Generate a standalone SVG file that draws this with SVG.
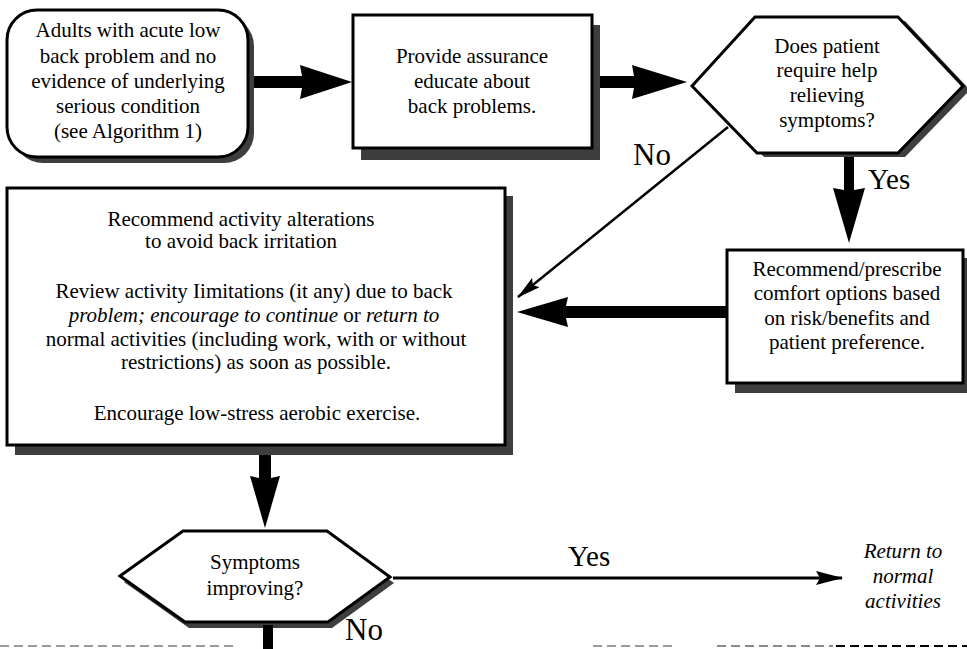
<svg xmlns="http://www.w3.org/2000/svg" width="967" height="649" viewBox="0 0 967 649">
  <style>
    text { font-family: "Liberation Serif", "Times New Roman", serif; fill: #000; }
    .t { font-size: 21px; text-anchor: middle; }
    .i { font-style: italic; }
    .lbl { font-size: 29px; }
    .box { fill: #fff; stroke: #000; stroke-width: 3; }
    .shadow { fill: #3e3e3e; }
    .thick { fill: #000; }
    .thin { fill: none; stroke: #000; }
    .dash { fill: none; stroke-width: 2; stroke-dasharray: 9 5; }
  </style>
  <defs>
    <marker id="head" viewBox="0 0 24 12" refX="23" refY="6" markerWidth="24" markerHeight="12" markerUnits="userSpaceOnUse" orient="auto">
      <path d="M0,0 L24,6 L0,12 L4,6 Z" fill="#000"/>
    </marker>
  </defs>
  <rect width="967" height="649" fill="#fff"/>

  <!-- Start: rounded entry box -->
  <g id="start">
    <rect class="shadow" x="13" y="16" width="241" height="147" rx="30"/>
    <rect class="box" x="7" y="10" width="241" height="147" rx="30"/>
    <text class="t" x="128" y="37">Adults with acute low</text>
    <text class="t" x="128" y="63">back problem and no</text>
    <text class="t" x="128" y="88">evidence of underlying</text>
    <text class="t" x="128" y="113">serious condition</text>
    <text class="t" x="128" y="138">(see Algorithm 1)</text>
  </g>

  <!-- Reassurance box -->
  <g id="assurance">
    <rect class="shadow" x="361" y="25" width="239" height="135"/>
    <rect class="box" x="353" y="15" width="239" height="133"/>
    <text class="t" x="472" y="63">Provide assurance</text>
    <text class="t" x="472" y="88">educate about</text>
    <text class="t" x="472" y="113">back problems.</text>
  </g>

  <!-- Decision: relief needed -->
  <g id="relief-decision">
    <polygon class="shadow" points="699,90 762,21 905,21 970,90 905,157 764,157"/>
    <polygon class="box" points="692,86 755,17 898,17 963,86 898,153 757,153"/>
    <text class="t" x="827" y="53">Does patient</text>
    <text class="t" x="827" y="77">require help</text>
    <text class="t" x="827" y="102">relieving</text>
    <text class="t" x="827" y="127">symptoms?</text>
  </g>

  <!-- Comfort options box -->
  <g id="comfort">
    <rect class="shadow" x="735" y="258" width="236" height="135"/>
    <rect class="box" x="727" y="250" width="236" height="133"/>
    <text class="t" x="847" y="276">Recommend/prescribe</text>
    <text class="t" x="847" y="300">comfort options based</text>
    <text class="t" x="847" y="325">on risk/benefits and</text>
    <text class="t" x="847" y="349">patient preference.</text>
  </g>

  <!-- Activity recommendations box -->
  <g id="activity">
    <rect class="shadow" x="15" y="196" width="498" height="259"/>
    <rect class="box" x="7" y="188" width="498" height="257"/>
    <text class="t" x="241" y="226">Recommend activity alterations</text>
    <text class="t" x="241" y="248">to avoid back irritation</text>
    <text class="t" x="254" y="298">Review activity Iimitations (it any) due to back</text>
    <text class="t" x="254" y="322"><tspan class="i">problem; encourage to continue </tspan>or <tspan class="i">return to</tspan></text>
    <text class="t" x="256" y="346">normal activities (including work, with or without</text>
    <text class="t" x="256" y="369">restrictions) as soon as possible.</text>
    <text class="t" x="257" y="420">Encourage low-stress aerobic exercise.</text>
  </g>

  <!-- Decision: improvement -->
  <g id="improving-decision">
    <polygon class="shadow" points="124,582 187,537 331,537 394,583 332,628 189,628"/>
    <polygon class="box" points="120,576 183,531 327,531 390,577 328,622 185,622"/>
    <text class="t" x="255" y="569">Symptoms</text>
    <text class="t" x="255" y="595">improving?</text>
  </g>

  <!-- Outcome text -->
  <g id="return-normal">
    <text class="t i" x="903" y="558">Return to</text>
    <text class="t i" x="903" y="583">normal</text>
    <text class="t i" x="903" y="608">activities</text>
  </g>

  <!-- Connectors -->
  <g id="connectors">
    <!-- start -> assurance -->
    <polygon class="thick" points="254,76 302,76 300,65 352,82 300,99 302,88 254,88"/>
    <!-- assurance -> decision -->
    <polygon class="thick" points="600,76 634,76 632,65 687,82 632,99 634,88 600,88"/>
    <!-- decision Yes -> comfort -->
    <polygon class="thick" points="844,157 844,190 833,188 849,243 865,188 854,190 854,157"/>
    <!-- decision No -> activity -->
    <line class="thin" x1="728" y1="127" x2="518" y2="297" stroke-width="2.5" marker-end="url(#head)"/>
    <!-- comfort -> activity -->
    <polygon class="thick" points="727,306 566,306 568,297 517,312 568,327 566,318 727,318"/>
    <!-- activity -> improving -->
    <polygon class="thick" points="259,455 259,478 250,476 265,528 280,476 271,478 271,455"/>
    <!-- improving Yes -> return -->
    <line class="thin" x1="393" y1="578" x2="842" y2="578" stroke-width="3"/>
    <polygon class="thick" points="816,571 843,578 816,585 820,578"/>
    <!-- improving No (continues) -->
    <rect class="thick" x="263" y="625" width="10" height="24"/>
  </g>

  <!-- Connector labels -->
  <g id="labels">
    <text class="lbl" x="633" y="165" style="font-size:31px">No</text>
    <text class="lbl" x="868" y="189">Yes</text>
    <text class="lbl" x="568" y="566">Yes</text>
    <text class="lbl" x="345" y="640" style="font-size:31px">No</text>
  </g>

  <!-- Page break rule -->
  <g id="page-rule">
    <line class="dash" x1="0" y1="646" x2="237" y2="646" stroke="#9a9a9a"/>
    <line class="dash" x1="593" y1="646" x2="677" y2="646" stroke="#9a9a9a"/>
    <line class="dash" x1="717" y1="646" x2="833" y2="646" stroke="#8a8a8a"/>
    <line class="dash" x1="836" y1="646" x2="967" y2="646" stroke="#000"/>
  </g>
</svg>
